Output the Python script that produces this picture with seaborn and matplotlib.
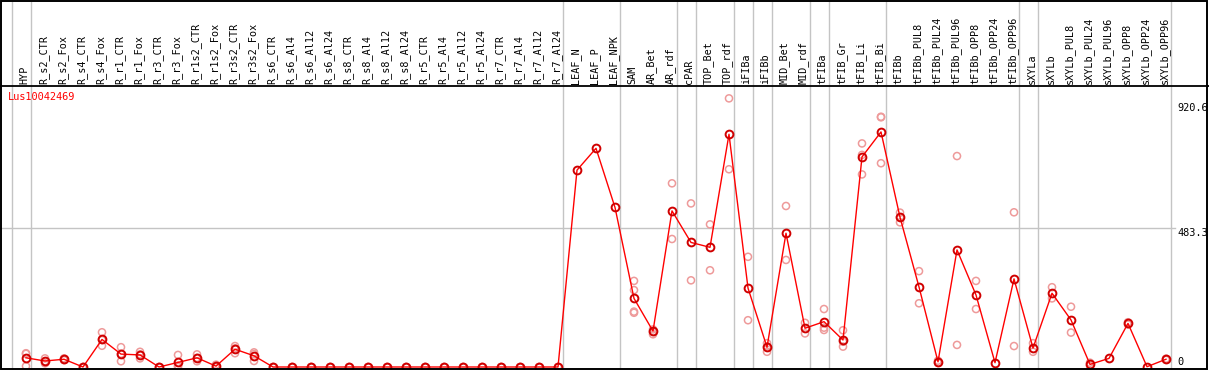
import numpy as np
import pandas as pd
import matplotlib
matplotlib.use("Agg")
import matplotlib.pyplot as plt
import seaborn as sns
from matplotlib.transforms import blended_transform_factory
from matplotlib.patches import Rectangle

# ---------------- data ----------------
gene = "Lus10042469"
categories = [
    "HYP", "R_s2_CTR", "R_s2_Fox", "R_s4_CTR", "R_s4_Fox", "R_r1_CTR", "R_r1_Fox",
    "R_r3_CTR", "R_r3_Fox", "R_r1s2_CTR", "R_r1s2_Fox", "R_r3s2_CTR", "R_r3s2_Fox",
    "R_s6_CTR", "R_s6_Al4", "R_s6_Al12", "R_s6_Al24", "R_s8_CTR", "R_s8_Al4",
    "R_s8_Al12", "R_s8_Al24", "R_r5_CTR", "R_r5_Al4", "R_r5_Al12", "R_r5_Al24",
    "R_r7_CTR", "R_r7_Al4", "R_r7_Al12", "R_r7_Al24", "LEAF_N", "LEAF_P", "LEAF_NPK",
    "SAM", "AR_Bet", "AR_rdf", "cPAR", "TOP_Bet", "TOP_rdf", "iFIBa", "iFIBb",
    "MID_Bet", "MID_rdf", "tFIBa", "tFIB_Gr", "tFIB_Li", "tFIB_Bi", "tFIBb",
    "tFIBb_PUL8", "tFIBb_PUL24", "tFIBb_PUL96", "tFIBb_OPP8", "tFIBb_OPP24",
    "tFIBb_OPP96", "sXYLa", "sXYLb", "sXYLb_PUL8", "sXYLb_PUL24", "sXYLb_PUL96",
    "sXYLb_OPP8", "sXYLb_OPP24", "sXYLb_OPP96",
]
means = [
    32, 21, 27, 0, 96, 45, 42, 0, 16, 32, 3, 62, 39,
    0, 0, 0, 0, 0, 0, 0, 0, 0, 0, 0, 0, 0, 0, 0, 0,
    686, 762, 556,
    239, 125, 544, 434, 417, 811, 275, 69, 466, 135,
    158, 94, 732, 819, 522, 279, 18, 408, 251, 15, 307,
    66, 257, 164, 9, 30, 152, 1, 27,
]
replicates = [
    [46, 48, 3], [30, 20, 13], [30, 24, 27], [0, 0], [121, 94, 74], [69, 46, 20],
    [53, 44, 30], [0, 0], [42, 5, 0], [44, 32, 20], [8, 0, 0], [73, 65, 48], [51, 45, 21],
    [0, 0], [0, 0], [0, 0], [0, 0], [0, 0], [0, 0], [0, 0], [0, 0],
    [0, 0], [0, 0], [0, 0], [0, 0], [0, 0], [0, 0], [0, 0], [0, 0],
    [], [], [],
    [300, 268, 193, 189], [131, 122, 114], [640, 446], [570, 302], [497, 337],
    [936, 689], [384, 163], [83, 72, 53], [561, 373], [154, 117],
    [202, 137, 129], [128, 88, 71], [779, 739, 671], [872, 870, 710], [538, 522, 504],
    [334, 222], [22, 14], [735, 77], [300, 202], [], [539, 73],
    [83, 53], [278, 239], [210, 120], [15, 4], [], [156, 148], [], [29, 25],
]
group_starts = [0, 1, 29, 32, 35, 36, 38, 39, 40, 42, 43, 46, 53, 54, 61]
ytick_values = [0, 483.3, 920.6]
ytick_labels = ["0", "483.3", "920.6"]

# ---------------- layout ----------------
W, H = 1209, 370
fig = plt.figure(figsize=(W / 100, H / 100), dpi=100)
ax = fig.add_axes([0, 0, 1, 1])
x0_px, dx_px = 26.0, 19.0       # pixel position of first category, spacing
y0_px, sy = 367.0, 0.287        # pixel row of value 0, pixels per unit
ax.set_xlim(-x0_px / dx_px, (W - x0_px) / dx_px)
ax.set_ylim(-(H - y0_px) / sy, y0_px / sy)
ax.axis("off")

def fx(px):
    return px / W

def fy(py):
    return 1 - py / H

mono = "DejaVu Sans Mono"
grid_c = "#C4C4C4"

# vertical group separators (through header too)
for g in group_starts:
    ax.axvline(g - 0.76, color=grid_c, lw=1, zorder=0)

# horizontal grid line at middle tick
xr = (1175 - x0_px) / dx_px
ax.plot([ax.get_xlim()[0], xr], [ytick_values[1]] * 2, color=grid_c, lw=1, zorder=0)

# header separator
ax.plot([0, 1], [fy(86), fy(86)], transform=ax.transAxes, color="black", lw=1.3, zorder=4)

# frame
ax.add_patch(Rectangle((fx(0.7), fy(369.3)), fx(1206.5), 1 - fy(369.3) - 0.002,
                       transform=ax.transAxes, fill=False, ec="black", lw=1.4, zorder=5,
                       clip_on=False))

# header labels
trans = blended_transform_factory(ax.transData, ax.transAxes)
for i, c in enumerate(categories):
    ax.text(i - 0.08, fy(83.5), c, transform=trans, rotation=90, ha="center",
            va="bottom", fontsize=7.3, family=mono, color="black")

# gene name
ax.text(fx(8), fy(97.5), gene, transform=ax.transAxes, color="red", ha="left",
        va="center", fontsize=7.4, family=mono)

# right value labels
tx = blended_transform_factory(ax.transAxes, ax.transData)
for v, lab in zip(ytick_values, ytick_labels):
    ax.text(fx(1177), v, lab, transform=tx, ha="left",
            va="bottom" if v == 0 else "top", fontsize=7.4, family=mono)

# ---------------- data marks ----------------
pos = np.arange(len(categories))
df_mean = pd.DataFrame({"pos": pos, "value": means})
rep_rows = [(i, v) for i, reps in enumerate(replicates) for v in reps]
df_rep = pd.DataFrame(rep_rows, columns=["pos", "value"])

sns.scatterplot(data=df_rep, x="pos", y="value", ax=ax, marker="o", s=26,
                color="#EE9A9A", linewidth=1.1, zorder=2, legend=False)
coll = ax.collections[-1]
coll.set_facecolor("none")
coll.set_edgecolor("#EE9A9A")

sns.lineplot(data=df_mean, x="pos", y="value", ax=ax, color="#FF0000", linewidth=1.0,
             marker="o", markersize=5.6, markerfacecolor="none",
             markeredgecolor="#D00000", markeredgewidth=1.4, sort=False,
             errorbar=None, zorder=3, legend=False)

ax.set_xlim(-x0_px / dx_px, (W - x0_px) / dx_px)
ax.set_ylim(-(H - y0_px) / sy, y0_px / sy)
ax.axis("off")

fig.savefig("out.png", dpi=100)
